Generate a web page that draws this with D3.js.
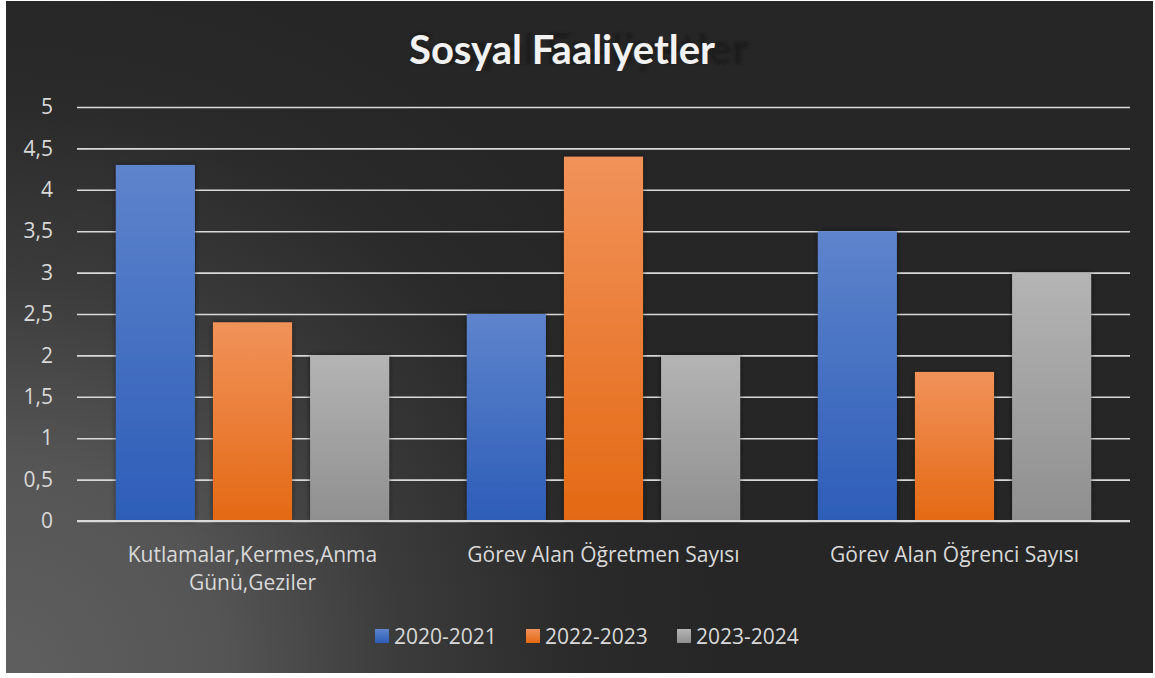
<!DOCTYPE html>
<html>
<head>
<meta charset="utf-8">
<script src="https://cdn.jsdelivr.net/npm/d3@7"></script>
<style>
  body { margin: 0; background: #fff; }
  svg { display: block; }
  text { font-family: "Open Sans", Lato, sans-serif; }
  text.title { font-family: Lato, sans-serif; font-weight: bold; }
</style>
</head>
<body>
<main></main>
<script>
// data
var categories = ["Kutlamalar,Kermes,Anma Günü,Geziler", "Görev Alan Öğretmen Sayısı", "Görev Alan Öğrenci Sayısı"];
var categoryLines = [["Kutlamalar,Kermes,Anma", "Günü,Geziler"], ["Görev Alan Öğretmen Sayısı"], ["Görev Alan Öğrenci Sayısı"]];
var seriesNames = ["2020-2021", "2022-2023", "2023-2024"];
var values2020 = [4.3, 2.5, 3.5];
var values2022 = [2.4, 4.4, 1.8];
var values2023 = [2.0, 2.0, 3.0];
var yTicks = [0, 0.5, 1, 1.5, 2, 2.5, 3, 3.5, 4, 4.5, 5];

var seriesValues = [values2020, values2022, values2023];
var gradColors = [["#5e84cc", "#2d5db8"], ["#f1925a", "#e46914"], ["#b4b4b4", "#8f8f8f"]];

var W = 1155, H = 678;
var svg = d3.select("main").append("svg")
    .attr("width", W)
    .attr("height", H);

var defs = svg.append("defs");

var bg = defs.append("radialGradient")
    .attr("id", "bg")
    .attr("gradientUnits", "userSpaceOnUse")
    .attr("cx", 6).attr("cy", 673).attr("r", 720);
bg.append("stop").attr("offset", 0).attr("stop-color", "#5f5f5f");
bg.append("stop").attr("offset", 0.3).attr("stop-color", "#555555");
bg.append("stop").attr("offset", 0.55).attr("stop-color", "#3b3b3b");
bg.append("stop").attr("offset", 0.8).attr("stop-color", "#2a2a2a");
bg.append("stop").attr("offset", 1).attr("stop-color", "#262626");

gradColors.forEach(function(c, i) {
  var g = defs.append("linearGradient")
      .attr("id", "bar" + i)
      .attr("x1", 0).attr("y1", 0).attr("x2", 0).attr("y2", 1);
  g.append("stop").attr("offset", 0).attr("stop-color", c[0]);
  g.append("stop").attr("offset", 1).attr("stop-color", c[1]);
});

var shadow = defs.append("filter").attr("id", "shadow")
    .attr("x", "-20%").attr("y", "-20%").attr("width", "140%").attr("height", "140%");
shadow.append("feDropShadow")
    .attr("dx", 0).attr("dy", 0).attr("stdDeviation", 2.5)
    .attr("flood-color", "#000").attr("flood-opacity", 0.55);

var blur = defs.append("filter").attr("id", "blur");
blur.append("feGaussianBlur").attr("stdDeviation", 1.2);

// chart area
svg.append("rect")
    .attr("x", 6).attr("y", 1)
    .attr("width", 1147).attr("height", 672)
    .attr("fill", "url(#bg)");

// title with its slanted shadow
var titleX = 562, titleY = 64;
svg.append("text")
    .attr("class", "title")
    .attr("x", titleX).attr("y", titleY)
    .attr("text-anchor", "middle")
    .attr("transform", "translate(409," + titleY + ") scale(1.11,1.04) translate(-409," + (-titleY) + ")")
    .attr("font-size", 40)
    .attr("fill", "#141414")
    .attr("opacity", 0.65)
    .attr("filter", "url(#blur)")
    .text("Sosyal Faaliyetler");
svg.append("text")
    .attr("class", "title")
    .attr("x", titleX).attr("y", titleY)
    .attr("text-anchor", "middle")
    .attr("font-size", 40)
    .attr("fill", "#f2f2f2")
    .text("Sosyal Faaliyetler");

// scales
var x0 = d3.scaleBand().domain(categories).range([77, 1130]);
var x1 = d3.scaleBand().domain(seriesNames).range([0, x0.bandwidth()])
    .paddingInner(0.186).paddingOuter(0.4);
var y = d3.scaleLinear().domain([0, 5]).range([521, 107]);

var fmt = d3.formatLocale({decimal: ",", thousands: ".", grouping: [3], currency: ["", ""]}).format("~g");

// gridlines + y labels
var yAxis = svg.append("g")
    .attr("transform", "translate(77,0)")
    .call(d3.axisLeft(y).tickValues(yTicks).tickFormat(fmt).tickSize(-(1130 - 77)).tickPadding(24));
yAxis.select(".domain").remove();
yAxis.selectAll(".tick line")
    .attr("stroke", "#d9d9d9")
    .attr("stroke-width", 1.6);
yAxis.selectAll(".tick text")
    .attr("fill", "#d9d9d9")
    .attr("font-size", 21);

// bars
var groups = svg.append("g").selectAll("g")
  .data(categories)
  .join("g")
    .attr("transform", function(d) { return "translate(" + x0(d) + ",0)"; });

groups.selectAll("rect")
  .data(function(d, ci) {
    return seriesNames.map(function(s, si) { return {s: s, si: si, v: seriesValues[si][ci]}; });
  })
  .join("rect")
    .attr("x", function(d) { return x1(d.s); })
    .attr("y", function(d) { return y(d.v); })
    .attr("width", x1.bandwidth())
    .attr("height", function(d) { return y(0) - y(d.v); })
    .attr("fill", function(d) { return "url(#bar" + d.si + ")"; })
    .attr("filter", "url(#shadow)");

// baseline
svg.append("line")
    .attr("x1", 77).attr("x2", 1130)
    .attr("y1", y(0)).attr("y2", y(0))
    .attr("stroke", "#d9d9d9")
    .attr("stroke-width", 1.8);

// category labels
var catLabels = svg.append("g").selectAll("text")
  .data(categories)
  .join("text")
    .attr("x", function(d) { return x0(d) + x0.bandwidth() / 2; })
    .attr("y", 562)
    .attr("text-anchor", "middle")
    .attr("fill", "#d9d9d9")
    .attr("font-size", 21);
catLabels.each(function(d, i) {
  d3.select(this).selectAll("tspan")
    .data(categoryLines[i])
    .join("tspan")
      .attr("x", x0(d) + x0.bandwidth() / 2)
      .attr("dy", function(t, j) { return j === 0 ? 0 : 28; })
      .text(function(t) { return t; });
});

// legend
var legendX = [375, 526, 677];
var legend = svg.append("g").selectAll("g")
  .data(seriesNames)
  .join("g")
    .attr("transform", function(d, i) { return "translate(" + legendX[i] + ",629)"; });
legend.append("rect")
    .attr("width", 14).attr("height", 14)
    .attr("fill", function(d, i) { return "url(#bar" + i + ")"; });
legend.append("text")
    .attr("x", 19).attr("y", 14.5)
    .attr("fill", "#d9d9d9")
    .attr("font-size", 21)
    .text(function(d) { return d; });
</script>
</body>
</html>
